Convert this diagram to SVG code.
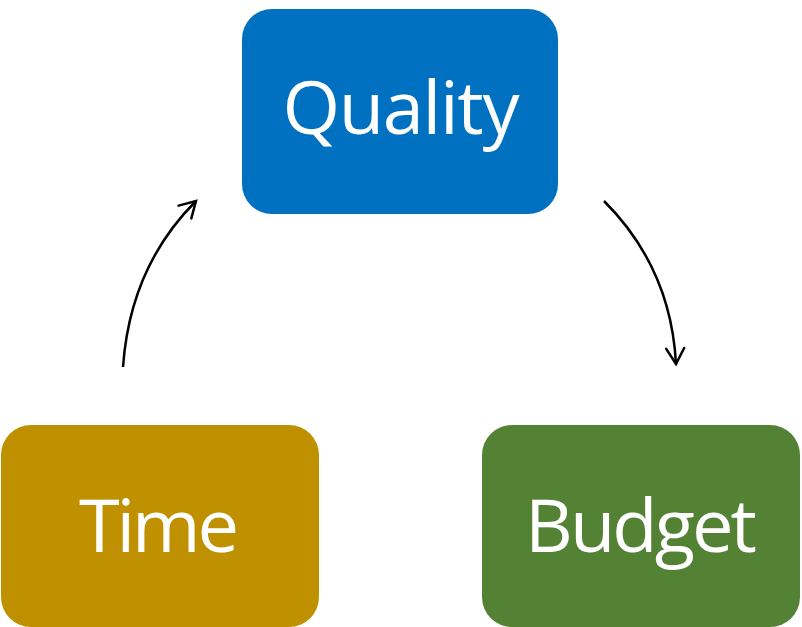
<svg xmlns="http://www.w3.org/2000/svg" width="802" height="627" viewBox="0 0 802 627">
  <style>
    .box { stroke: none; }
    .label { font-family: "Open Sans", "Liberation Sans", sans-serif; font-size: 74px; fill: #FFFFFF; text-anchor: middle; }
    .conn { fill: none; stroke: #000000; stroke-width: 2.5; }
  </style>
  <defs>
    <marker id="arrow" markerUnits="userSpaceOnUse" markerWidth="40" markerHeight="40" refX="0" refY="0" viewBox="-20 -20 40 40" orient="auto" overflow="visible">
      <path d="M -15.6 -9 L 0 0 L -15.6 9" fill="none" stroke="#000000" stroke-width="2.5" stroke-linecap="round" stroke-linejoin="miter"/>
    </marker>
  </defs>
  <rect x="0" y="0" width="802" height="627" fill="#FFFFFF"/>
  <g id="quality">
    <rect class="box" x="242" y="9" width="316" height="205" rx="30" ry="30" fill="#0070C0"/>
    <text class="label" x="401" y="134" textLength="237">Quality</text>
  </g>
  <g id="time">
    <rect class="box" x="1" y="425" width="318" height="202" rx="30" ry="30" fill="#BF9000"/>
    <text class="label" x="159" y="552" textLength="160">Time</text>
  </g>
  <g id="budget">
    <rect class="box" x="482" y="425" width="318" height="202" rx="30" ry="30" fill="#548235"/>
    <text class="label" x="641" y="552" textLength="232">Budget</text>
  </g>
  <g id="connectors">
    <path class="conn" d="M 123 367 Q 130 267 196 201" marker-end="url(#arrow)"/>
    <path class="conn" d="M 604 201 Q 671 268 676 364" marker-end="url(#arrow)"/>
  </g>
</svg>
